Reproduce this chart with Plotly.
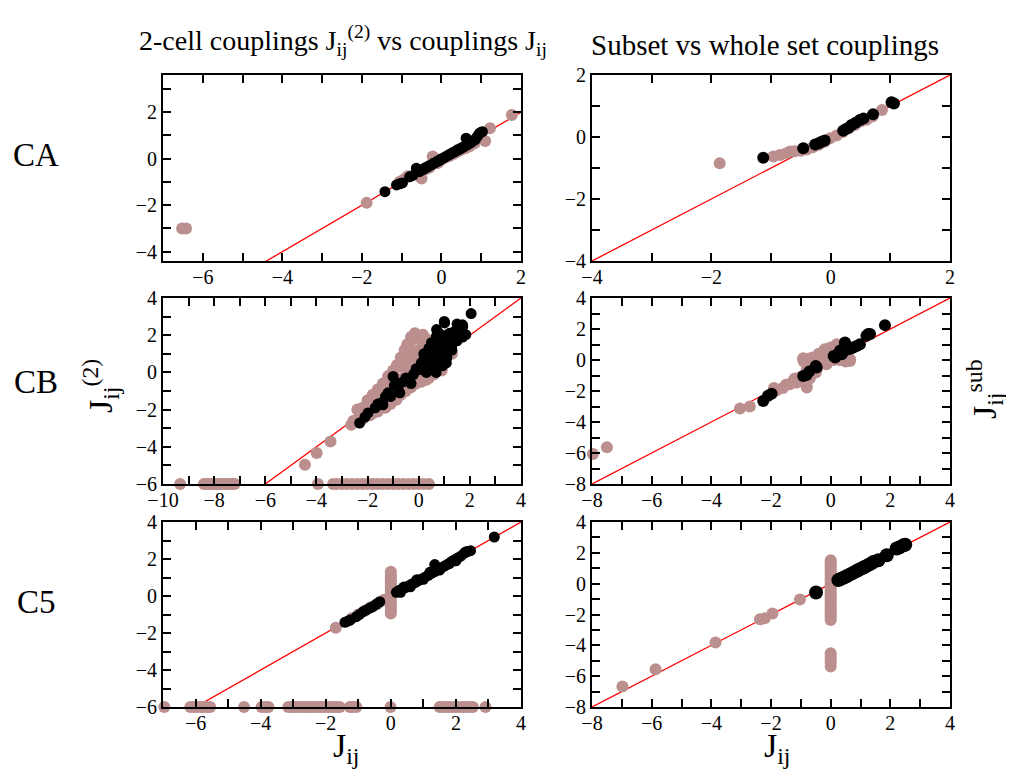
import plotly.graph_objects as go

# ---------------- data ----------------
# Row CA, left: 2-cell couplings vs couplings
ca_left_brown_x = [-6.52, -6.42, -1.88, -1.05, -0.95, -0.85, -0.6, -0.5, -0.4, -0.3, -0.22, -0.1, 0.0, 0.1, 0.2,
                   0.3, 0.4, 0.5, 0.6, 0.7, 0.83, 0.9, 1.1, 1.22, 1.77]
ca_left_brown_y = [-3.0, -3.0, -1.9, -0.99, -0.9, -0.75, -0.58, -0.85, -0.45, -0.38, 0.09, -0.2, -0.05, 0.05, 0.12,
                   0.2, 0.3, 0.38, 0.45, 0.52, 0.66, 0.85, 0.76, 1.31, 1.88]
ca_left_black_x = [-1.42, -1.13, -1.05, -0.98, -0.8, -0.72, -0.63, -0.55, -0.5, -0.45, -0.4, -0.35, -0.3, -0.25,
                   -0.2, -0.15, -0.1, -0.05, 0.0, 0.05, 0.1, 0.15, 0.2, 0.25, 0.3, 0.35, 0.4, 0.45, 0.5, 0.55,
                   0.6, 0.62, 0.65, 0.7, 0.75, 0.8, 0.85, 0.9, 0.95, 1.0, 1.03]
ca_left_black_y = [-1.42, -1.13, -1.08, -1.04, -0.78, -0.72, -0.41, -0.55, -0.47, -0.46, -0.38, -0.36, -0.29, -0.27,
                   -0.2, -0.17, -0.1, -0.08, 0.0, 0.02, 0.08, 0.12, 0.18, 0.22, 0.28, 0.3, 0.38, 0.4, 0.46, 0.5,
                   0.55, 0.88, 0.6, 0.66, 0.7, 0.78, 0.82, 0.95, 1.08, 1.14, 1.16]

# Row CA, right: subset vs whole set couplings
ca_right_brown_x = [-1.86, -0.96, -0.85, -0.75, -0.68, -0.6, -0.5, -0.4, -0.3, -0.2, -0.1, -0.01, 0.1, 0.2, 0.3,
                    0.4, 0.5, 0.6, 0.7, 0.86]
ca_right_brown_y = [-0.85, -0.63, -0.58, -0.53, -0.47, -0.46, -0.44, -0.4, -0.33, -0.25, -0.15, -0.04, 0.05, 0.16,
                    0.28, 0.38, 0.5, 0.56, 0.66, 0.87]
ca_right_black_x = [-1.13, -0.46, -0.26, -0.2, -0.15, -0.1, 0.21, 0.25, 0.3, 0.35, 0.42, 0.49, 0.55, 0.71, 1.02, 1.06]
ca_right_black_y = [-0.67, -0.36, -0.24, -0.2, -0.15, -0.11, 0.2, 0.25, 0.3, 0.39, 0.46, 0.55, 0.6, 0.73, 1.12, 1.08]

# Row CB, left
cb_left_brown_x = [-9.33, -8.4, -8.3, -8.2, -8.1, -8.0, -7.9, -7.8, -7.7, -7.6, -7.5, -7.4, -7.3, -7.2, -3.94,
                   -3.35, -3.2, -3.0, -2.8, -2.6, -2.4, -2.2, -2.0, -1.8, -1.6, -1.4, -1.2, -1.0, -0.8, -0.6,
                   -0.4, -0.2, 0.0, 0.2, 0.4,
                   -4.45, -3.99, -3.45, -2.64, -2.55, -2.3, -2.0, -1.9, -1.8, -1.7, -1.6, -1.5, -1.4, -1.3,
                   -1.2, -1.1, -1.0, -0.9, -0.8, -0.7, -0.62, -0.5, -0.5, -0.4, -0.36, -0.3, -0.2, -0.1, 0.0,
                   0.16, 0.1, 0.3, 0.0, -0.2, 0.5, 0.7, 1.0, 1.3, -1.0, -1.5, -1.8, -2.2, -0.6, -1.27, -0.87,
                   -1.14, -0.48, -0.09, 0.3,
                   -2.4, -2.2, -2.0, -1.8, -1.6, -1.4, -1.2, -1.0, -0.85, -0.7, -0.55, -0.45, -0.3, -0.15,
                   -1.9, -1.6, -1.3, -1.1, -0.9, -0.7, -0.5, -0.3, -0.1, 0.1, 0.4, 0.6, 0.9, -1.2, -0.9,
                   -0.6, -0.4, -0.2, 0.0, 0.2, 0.3, -1.5, -1.9, -2.3]
cb_left_brown_y = [-6.0, -6.0, -6.0, -6.0, -6.0, -6.0, -6.0, -6.0, -6.0, -6.0, -6.0, -6.0, -6.0, -6.0, -6.0,
                   -6.0, -6.0, -6.0, -6.0, -6.0, -6.0, -6.0, -6.0, -6.0, -6.0, -6.0, -6.0, -6.0, -6.0, -6.0,
                   -6.0, -6.0, -6.0, -6.0, -6.0,
                   -4.96, -4.33, -3.71, -2.81, -2.6, -2.4, -2.0, -1.6, -1.65, -1.3, -1.9, -1.1, -1.6, -0.8,
                   -1.4, -0.5, -1.2, -0.3, -0.9, 0.3, 0.6, -0.6, 1.0, 1.3, 1.6, -0.3, 1.8, 2.0, 1.9,
                   2.03, -0.2, -0.35, 0.5, 0.8, 0.1, 0.4, 0.5, 1.0, -0.4, -1.4, -2.2, -2.5, -0.9, -1.5, -1.47,
                   -0.66, 1.22, 2.03, -0.39,
                   -2.0, -1.9, -1.5, -1.2, -0.9, -0.6, -0.2, 0.1, 0.4, 0.8, 1.2, 1.5, 1.9, 2.1,
                   -2.3, -2.1, -1.9, -1.7, -1.4, -1.2, -1.0, -0.8, -0.6, -0.5, -0.3, -0.1, 0.1, -0.9, -0.6,
                   -0.3, 0.2, 0.5, 1.2, 1.5, 1.8, -1.2, -1.9, -2.2]
cb_left_black_x = [-2.31, -2.1, -1.98, -1.6, -1.46, -1.4, -1.3, -1.2, -1.0, -0.95, -0.8, -0.74, -0.6, -0.5, -0.35,
                   -0.2, -0.1, 0.03, 0.1, 0.2, 0.3, 0.42, 0.42, 0.5, 0.6, 0.69, 0.7, 0.81, 0.9, 1.01, 1.08, 1.1,
                   1.2, 1.3, 1.4, 1.5, 1.72, 1.72, 2.05, 0.9, 0.3, 0.6, 1.0, 0.2, 0.8, 0.5, 1.71, 1.84, 0.68,
                   0.94, 1.0,
                   0.2, 0.4, 0.6, 0.8, 1.0, 1.2, 1.4, 1.6, 0.3, 0.5, -0.3, -0.8, -1.1, -1.7, 1.1, 1.3, 0.7, 1.5]
cb_left_black_y = [-2.72, -2.4, -2.18, -1.7, -1.65, -1.74, -1.3, -1.1, -0.22, -0.7, -0.9, -1.1, -0.5, -0.3, -0.39,
                   -0.1, 0.2, 0.15, 0.5, 0.4, 0.9, 0.68, 0.33, 1.2, 1.5, 1.94, 0.8, 1.22, 1.7, 2.66, 0.51, 2.0,
                   1.58, 1.2, 2.2, 1.7, 2.47, 1.9, 3.16, 0.9, 0.2, 0.4, 1.3, 1.0, 2.1, 1.6, 2.56, 2.03, 0.0,
                   0.36, 2.74,
                   0.7, 1.3, 1.0, 1.6, 1.8, 2.1, 1.7, 2.2, 0.0, 0.3, -0.6, -0.6, -1.3, -1.9, 0.8, 1.5, 2.3, 2.6]

# Row CB, right
cb_right_brown_x = [-7.97, -7.5, -3.04, -2.71, -1.81, -1.6, -1.37, -1.26, -1.14, -0.81, -0.8, -1.0, -0.92, -0.92,
                    -0.8, -0.7, -0.6, -0.58, -0.47, -0.4, -0.36, -0.3, -0.25, -0.14, -0.14, 0.0, 0.0, 0.1, 0.2,
                    0.3, 0.45, 0.65, 0.65, 0.5, -0.2, -0.5, -0.7,
                    -0.9, -0.7, -0.5, -0.3, -0.1, 0.1, 0.3, 0.5, -0.2, -0.4, -1.9, -1.5, -1.2, -0.6]
cb_right_brown_y = [-6.06, -5.63, -3.13, -3.0, -1.96, -1.8, -1.57, -1.36, -1.46, -1.68, -1.78, -1.1, 0.05, 0.11,
                    -0.6, 0.0, 0.16, -0.49, -0.6, 0.1, -0.06, 0.3, 0.48, 0.59, -0.28, 0.3, 0.8, 0.0, 1.02,
                    0.1, 0.0, 0.05, -0.06, 0.5, -0.2, -0.8, -1.2,
                    -0.1, 0.1, 0.0, 0.1, 0.2, 0.5, 0.0, -0.1, 0.7, 0.4, -1.8, -1.6, -1.2, -0.2]
cb_right_black_x = [-2.26, -2.1, -1.98, -0.92, -0.81, -0.72, -0.5, -0.47, 0.1, 0.15, 0.2, 0.31, 0.37, 0.4, 0.48,
                    0.45, 0.55, 0.6, 0.7, 0.76, 0.87, 0.98, 1.2, 1.26, 1.32, 1.82]
cb_right_black_y = [-2.65, -2.3, -2.18, -1.03, -0.97, -0.75, -0.38, -0.49, 0.26, 0.16, 0.3, 0.59, 0.37, 0.5, 1.13,
                    0.8, 0.9, 0.7, 0.75, 0.8, 0.9, 1.02, 1.56, 1.67, 1.67, 2.25]

# Row C5, left
c5_left_brown_x = [-6.96, -6.16, -6.05, -5.95, -5.85, -5.75, -5.65, -5.55, -4.51, -3.97, -3.85, -3.76, -3.15,
                   -3.05, -2.95, -2.85, -2.75, -2.65, -2.55, -2.45, -2.35, -2.25, -2.15, -2.05, -1.95, -1.85,
                   -1.75, -1.65, -1.57, -1.26, -1.16, -1.06, -0.01, 1.5, 1.6, 1.7, 1.8, 1.9, 2.0, 2.1, 2.2, 2.3,
                   2.4, 2.52, 2.91,
                   -1.69, -1.2, -1.0, -0.8, -0.6, -0.4, -0.2,
                   0.0, 0.0, 0.0, 0.0, 0.0, 0.0, 0.0, 0.0, 0.0, 0.0, 0.0, 0.0, 0.0, 0.0, 0.0, 0.0]
c5_left_brown_y = [-6.0, -6.0, -6.0, -6.0, -6.0, -6.0, -6.0, -6.0, -6.0, -6.0, -6.0, -6.0, -6.0,
                   -6.0, -6.0, -6.0, -6.0, -6.0, -6.0, -6.0, -6.0, -6.0, -6.0, -6.0, -6.0, -6.0,
                   -6.0, -6.0, -6.0, -6.0, -6.0, -6.0, -6.0, -6.0, -6.0, -6.0, -6.0, -6.0, -6.0, -6.0, -6.0, -6.0,
                   -6.0, -6.0, -6.0,
                   -1.71, -1.2, -1.0, -0.8, -0.6, -0.4, -0.2,
                   -0.94, -0.8, -0.65, -0.5, -0.35, -0.2, -0.05, 0.1, 0.25, 0.4, 0.55, 0.7, 0.85, 1.0, 1.15, 1.31]
c5_left_black_x = [-1.41, -1.31, -1.25, -1.06, -0.95, -0.85, -0.75, -0.65, -0.55, -0.45, -0.34,
                   0.17, 0.25, 0.35, 0.45, 0.55, 0.65, 0.75, 0.85, 0.95, 1.05, 1.15, 1.25, 1.35, 1.45, 1.55,
                   1.65, 1.75, 1.85, 1.95, 2.05, 2.15, 2.25, 2.35, 2.45, 1.35, 3.18,
                   0.3, 0.6, 1.0, 1.5, 2.0, 0.4, 0.8, 1.2, 1.8, 2.3]
c5_left_black_y = [-1.42, -1.35, -1.3, -1.12, -0.98, -0.85, -0.75, -0.65, -0.58, -0.45, -0.31,
                   0.2, 0.3, 0.38, 0.45, 0.55, 0.65, 0.73, 0.83, 0.92, 1.02, 1.12, 1.22, 1.32, 1.42, 1.52,
                   1.62, 1.72, 1.85, 1.95, 2.05, 2.15, 2.3, 2.4, 2.45, 1.7, 3.19,
                   0.2, 0.5, 0.9, 1.4, 1.9, 0.48, 0.88, 1.28, 1.75, 2.38]

# Row C5, right
c5_right_brown_x = [-6.98, -5.87, -3.86, -2.37, -2.21, -1.95, -1.03,
                    0.0, 0.0, 0.0, 0.0, 0.0, 0.0, 0.0, 0.0, 0.0, 0.0, 0.0, 0.0, 0.0, 0.0, 0.0, 0.0, 0.0,
                    0.0, 0.0, 0.0, 0.0, 0.0, 0.0, 0.0, 0.0, 0.0, 0.0,
                    0.0, 0.0, 0.0, 0.0, 0.0]
c5_right_brown_y = [-6.67, -5.55, -3.82, -2.31, -2.25, -1.93, -1.02,
                    -2.36, -2.2, -2.05, -1.9, -1.75, -1.6, -1.45, -1.3, -1.15, -1.0, -0.85, -0.7, -0.55, -0.4,
                    -0.25, -0.1, 0.05, 0.2, 0.35, 0.5, 0.65, 0.8, 0.95, 1.1, 1.25, 1.4, 1.52,
                    -4.51, -4.7, -4.9, -5.1, -5.38]
c5_right_black_x = [-0.49, 0.26, 0.35, 0.45, 0.55, 0.65, 0.75, 0.85, 0.95, 1.05, 1.15, 1.25, 1.35, 1.43, 1.6,
                    1.88, 2.21, 2.3, 2.44, 2.5]
c5_right_black_y = [-0.57, 0.23, 0.32, 0.4, 0.5, 0.6, 0.7, 0.8, 0.9, 1.0, 1.1, 1.2, 1.3, 1.41, 1.52,
                    1.84, 2.28, 2.35, 2.49, 2.52]

diag = [-10, 4]

# axis ranges
x_ranges = [[-7, 2], [-4, 2], [-10, 4], [-8, 4], [-7, 4], [-8, 4]]
y_ranges = [[-4.4, 3.6], [-4, 2], [-6, 4], [-8, 4], [-6, 4], [-8, 4]]

panels = [
    (ca_left_brown_x, ca_left_brown_y, ca_left_black_x, ca_left_black_y, 11),
    (ca_right_brown_x, ca_right_brown_y, ca_right_black_x, ca_right_black_y, 12),
    (cb_left_brown_x, cb_left_brown_y, cb_left_black_x, cb_left_black_y, 11),
    (cb_right_brown_x, cb_right_brown_y, cb_right_black_x, cb_right_black_y, 12),
    (c5_left_brown_x, c5_left_brown_y, c5_left_black_x, c5_left_black_y, 11),
    (c5_right_brown_x, c5_right_brown_y, c5_right_black_x, c5_right_black_y, 14),
]

# the page body adds an 8 px offset; figure is sized so it ends at the window edge
OFF = 8
W, H = 1014 - OFF, 778 - OFF
# pixel boxes in window coordinates (left, right, top, bottom)
boxes = [
    (163, 521, 75, 261), (592, 950, 75, 261),
    (163, 521, 298, 484), (592, 950, 298, 484),
    (163, 521, 522, 707), (592, 950, 522, 707),
]

BROWN = "#BC8F8F"
FONT = "Liberation Serif"

def fx(px):
    return (px - OFF) / W

def fy(py):
    return 1 - (py - OFF) / H

fig = go.Figure()
layout = dict(template="none", width=W, height=H, margin=dict(l=0, r=0, t=0, b=0, pad=0, autoexpand=False),
              paper_bgcolor="white", plot_bgcolor="white", showlegend=False,
              font=dict(family=FONT, color="black"))

for i, (bx, by, kx, ky, ksize) in enumerate(panels):
    n = i + 1
    xa = "x" if n == 1 else f"x{n}"
    ya = "y" if n == 1 else f"y{n}"
    fig.add_trace(go.Scatter(x=diag, y=diag, mode="lines", line=dict(color="red", width=1.3),
                             xaxis=xa, yaxis=ya, hoverinfo="skip"))
    fig.add_trace(go.Scatter(x=bx, y=by, mode="markers", marker=dict(color=BROWN, size=12, line=dict(width=0)),
                             xaxis=xa, yaxis=ya, cliponaxis=False))
    fig.add_trace(go.Scatter(x=kx, y=ky, mode="markers", marker=dict(color="black", size=ksize, line=dict(width=0)),
                             xaxis=xa, yaxis=ya, cliponaxis=False))
    l, r, t, b = boxes[i]
    common = dict(showline=True, linecolor="black", linewidth=2, mirror="allticks", ticks="inside",
                  ticklen=8, tickwidth=1.5, tickcolor="black", showgrid=False, zeroline=False,
                  automargin=False,
                  tickfont=dict(family=FONT, size=20, color="black"),
                  minor=dict(ticks="inside", ticklen=8, tickwidth=1.5, dtick=1, tickcolor="black",
                             showgrid=False))
    layout["xaxis" if n == 1 else f"xaxis{n}"] = dict(
        common, domain=[fx(l), fx(r)], range=x_ranges[i], anchor=ya, dtick=2, tick0=0,
        ticklabelstandoff=-3)
    layout["yaxis" if n == 1 else f"yaxis{n}"] = dict(
        common, domain=[fy(b), fy(t)], range=y_ranges[i], anchor=xa, dtick=2, tick0=0)

fig.update_layout(**layout)

def ann(text, x, y, size, angle=0):
    fig.add_annotation(text=text, x=fx(x), y=fy(y), xref="paper", yref="paper", showarrow=False,
                       font=dict(family=FONT, size=size, color="black"), textangle=angle,
                       xanchor="center", yanchor="middle")

ann("2-cell couplings J<sub>ij</sub><sup>(2)</sup> vs couplings J<sub>ij</sub>", 343, 40, 28)
ann("Subset vs whole set couplings", 765, 45, 29)
ann("CA", 36, 155, 33)
ann("CB", 36, 382, 33)
ann("C5", 36, 602, 33)
ann("J<sub>ij</sub><sup>(2)</sup>", 100, 386, 34, -90)
ann("J<sub>ij</sub><sup>sub</sup>", 984, 389, 34, -90)
ann("J<sub>ij</sub>", 346, 748, 34)
ann("J<sub>ij</sub>", 777, 748, 34)

fig.write_html("out.html")
